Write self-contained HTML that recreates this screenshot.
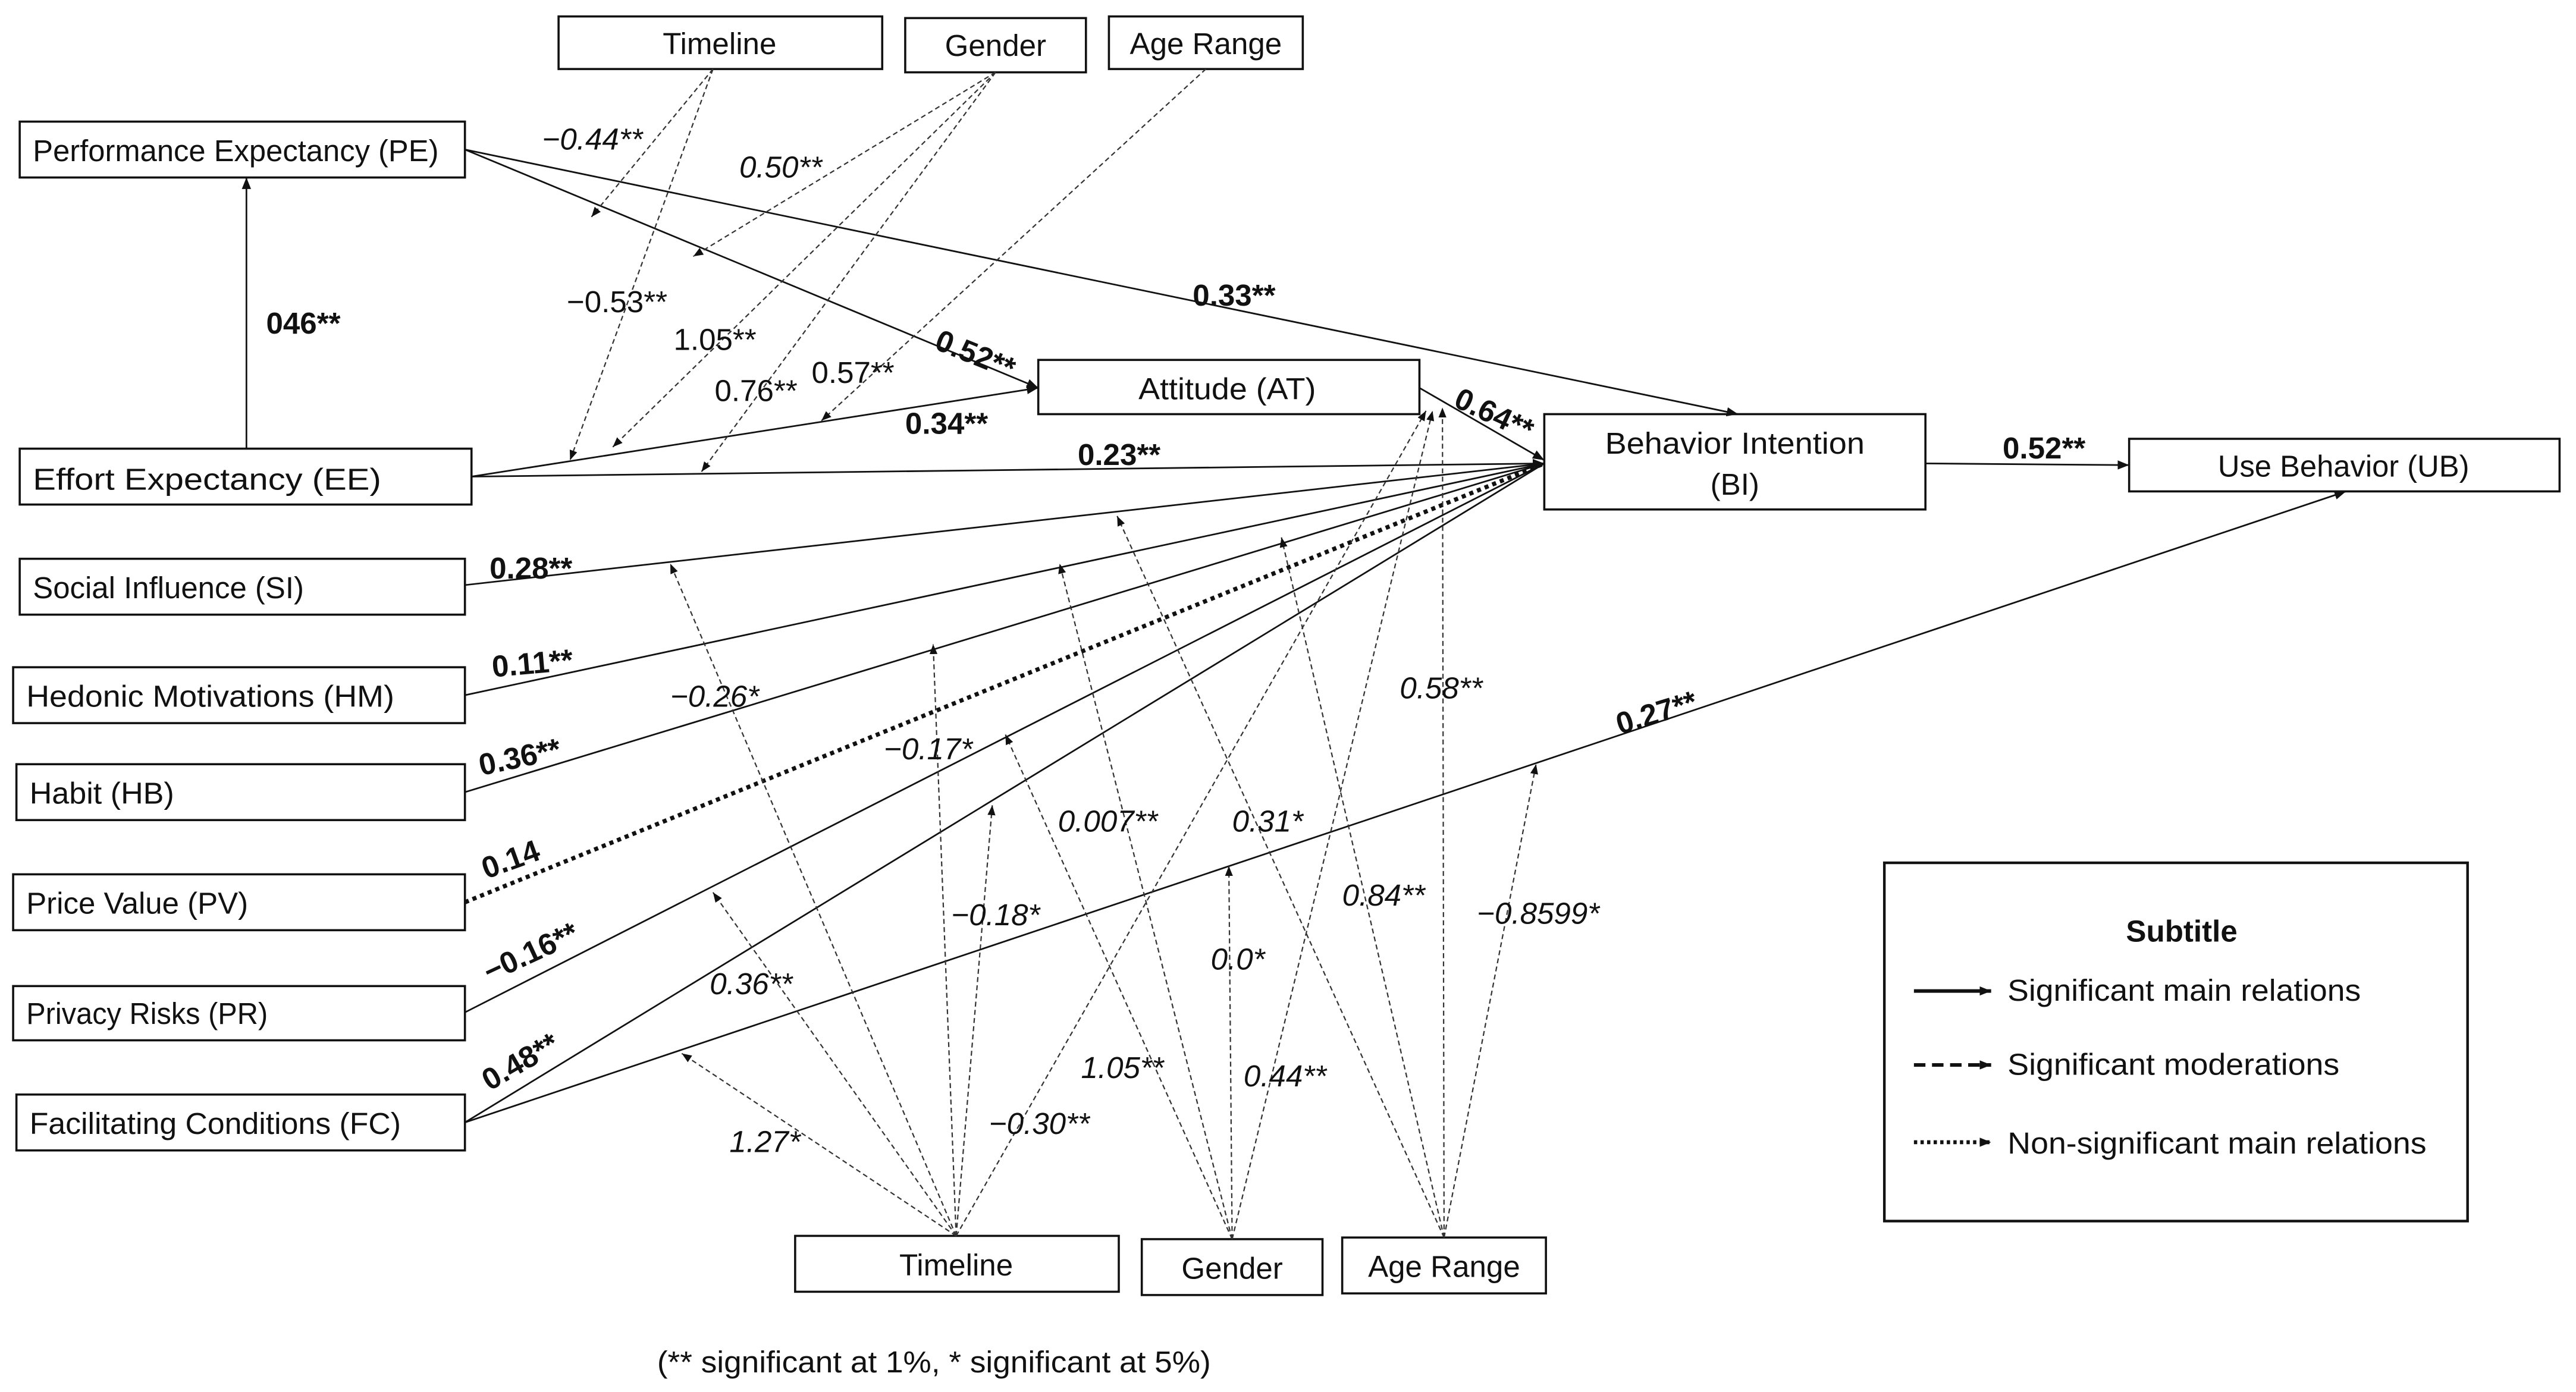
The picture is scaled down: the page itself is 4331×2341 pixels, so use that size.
<!DOCTYPE html>
<html><head><meta charset="utf-8"><style>
html,body{margin:0;padding:0;background:#fff;}
svg{display:block;}
text{font-family:"Liberation Sans",sans-serif;font-size:18.5px;fill:#111;}
.b{font-weight:bold;}
.i{font-style:italic;}
</style></head><body>
<svg width="4331" height="2341" viewBox="0 0 1568 847" preserveAspectRatio="none" xmlns="http://www.w3.org/2000/svg">
<defs>
<marker id="a" viewBox="0 0 10 10" refX="10" refY="5" markerWidth="7" markerHeight="7" orient="auto-start-reverse" markerUnits="userSpaceOnUse"><path d="M0,1 L10,5 L0,9z" fill="#111"/></marker>
<marker id="s" viewBox="0 0 10 10" refX="10" refY="5" markerWidth="6" markerHeight="6" orient="auto" markerUnits="userSpaceOnUse"><path d="M0,1 L10,5 L0,9z" fill="#111"/></marker>
</defs>
<g fill="none" stroke="#111" stroke-width="1.3">
<rect x="340" y="10" width="197" height="32"/>
<rect x="551" y="11" width="110" height="33"/>
<rect x="675" y="10" width="118" height="32"/>
<rect x="12" y="74" width="271" height="34"/>
<rect x="12" y="273" width="275" height="34"/>
<rect x="12" y="340" width="271" height="34"/>
<rect x="8" y="406" width="275" height="34"/>
<rect x="10" y="465" width="273" height="34"/>
<rect x="8" y="532" width="275" height="34"/>
<rect x="8" y="600" width="275" height="33"/>
<rect x="10" y="666" width="273" height="34"/>
<rect x="632" y="219" width="232" height="33"/>
<rect x="940" y="252" width="232" height="58"/>
<rect x="1296" y="267" width="262" height="32"/>
<rect x="484" y="752" width="197" height="34"/>
<rect x="695" y="754" width="110" height="34"/>
<rect x="817" y="753" width="124" height="34"/>
<rect x="1147" y="525" width="355" height="218" stroke-width="1.6"/>
</g>
<g stroke="#111" stroke-width="1" fill="none">
<line x1="150" y1="273" x2="150" y2="108" marker-end="url(#a)"/>
<line x1="283" y1="91" x2="632" y2="236" marker-end="url(#a)"/>
<line x1="283" y1="91" x2="1058" y2="252" marker-end="url(#a)"/>
<line x1="287" y1="290" x2="632" y2="236" marker-end="url(#a)"/>
<line x1="287" y1="290" x2="940" y2="282" marker-end="url(#a)"/>
<line x1="283" y1="356" x2="940" y2="282"/>
<line x1="283" y1="423" x2="940" y2="282"/>
<line x1="283" y1="482" x2="940" y2="282"/>
<line x1="283" y1="549" x2="940" y2="282" stroke-width="2.6" stroke-dasharray="2.5,2.5"/>
<line x1="283" y1="616" x2="940" y2="282"/>
<line x1="283" y1="683" x2="940" y2="282"/>
<line x1="283" y1="683" x2="1428" y2="299" marker-end="url(#a)"/>
<line x1="864" y1="236" x2="940" y2="280" marker-end="url(#a)"/>
<line x1="1172" y1="282" x2="1296" y2="283" marker-end="url(#a)"/>
</g>
<g stroke="#333" stroke-width="0.8" stroke-dasharray="3,2" fill="none" marker-end="url(#s)">
<line x1="434" y1="42" x2="360" y2="132"/>
<line x1="434" y1="42" x2="347" y2="280"/>
<line x1="606" y1="44" x2="422" y2="156"/>
<line x1="606" y1="44" x2="373" y2="272"/>
<line x1="606" y1="44" x2="427" y2="287"/>
<line x1="734" y1="42" x2="500" y2="256"/>
<line x1="582" y1="752" x2="408" y2="343"/>
<line x1="582" y1="752" x2="568" y2="392"/>
<line x1="582" y1="752" x2="434" y2="543"/>
<line x1="582" y1="752" x2="604" y2="490"/>
<line x1="582" y1="752" x2="415" y2="641"/>
<line x1="582" y1="752" x2="868" y2="250"/>
<line x1="750" y1="754" x2="645" y2="343"/>
<line x1="750" y1="754" x2="612" y2="447"/>
<line x1="750" y1="754" x2="748" y2="527"/>
<line x1="750" y1="754" x2="872" y2="250"/>
<line x1="879" y1="753" x2="680" y2="314"/>
<line x1="879" y1="753" x2="780" y2="327"/>
<line x1="879" y1="753" x2="878" y2="248"/>
<line x1="879" y1="753" x2="935" y2="465"/>
</g>
<g>
<text x="438" y="33" text-anchor="middle">Timeline</text>
<text x="606" y="34" text-anchor="middle">Gender</text>
<text x="734" y="33" text-anchor="middle">Age Range</text>
<text x="20" y="98" textLength="247" lengthAdjust="spacingAndGlyphs">Performance Expectancy (PE)</text>
<text x="20" y="298" textLength="212" lengthAdjust="spacingAndGlyphs">Effort Expectancy (EE)</text>
<text x="20" y="364" textLength="165" lengthAdjust="spacingAndGlyphs">Social Influence (SI)</text>
<text x="16" y="430" textLength="224" lengthAdjust="spacingAndGlyphs">Hedonic Motivations (HM)</text>
<text x="18" y="489" textLength="88" lengthAdjust="spacingAndGlyphs">Habit (HB)</text>
<text x="16" y="556" textLength="135" lengthAdjust="spacingAndGlyphs">Price Value (PV)</text>
<text x="16" y="623" textLength="147" lengthAdjust="spacingAndGlyphs">Privacy Risks (PR)</text>
<text x="18" y="690" textLength="226" lengthAdjust="spacingAndGlyphs">Facilitating Conditions (FC)</text>
<text x="693" y="243" textLength="108" lengthAdjust="spacingAndGlyphs">Attitude (AT)</text>
<text x="977" y="276" textLength="158" lengthAdjust="spacingAndGlyphs">Behavior Intention</text>
<text x="1056" y="301" text-anchor="middle">(BI)</text>
<text x="1350" y="290" textLength="153" lengthAdjust="spacingAndGlyphs">Use Behavior (UB)</text>
<text x="582" y="776" text-anchor="middle">Timeline</text>
<text x="750" y="778" text-anchor="middle">Gender</text>
<text x="879" y="777" text-anchor="middle">Age Range</text>
<text x="1328" y="573" text-anchor="middle" class="b">Subtitle</text>
<text x="1222" y="609" textLength="215" lengthAdjust="spacingAndGlyphs">Significant main relations</text>
<text x="1222" y="654" textLength="202" lengthAdjust="spacingAndGlyphs">Significant moderations</text>
<text x="1222" y="702" textLength="255" lengthAdjust="spacingAndGlyphs">Non-significant main relations</text>
<text x="400" y="835" textLength="337" lengthAdjust="spacingAndGlyphs">(** significant at 1%, * significant at 5%)</text>
</g>
<g stroke="#111" fill="none" marker-end="url(#a)">
<line x1="1165" y1="603" x2="1212" y2="603" stroke-width="2.2"/>
<line x1="1165" y1="648" x2="1212" y2="648" stroke-width="2.2" stroke-dasharray="7,4"/>
<line x1="1165" y1="695" x2="1212" y2="695" stroke-width="2.4" stroke-dasharray="2,2"/>
</g>
<g>
<text x="330" y="91" class="i">−0.44**</text>
<text x="450" y="108" class="i">0.50**</text>
<text x="408" y="430" class="i">−0.26*</text>
<text x="538" y="462" class="i">−0.17*</text>
<text x="644" y="506" class="i">0.007**</text>
<text x="750" y="506" class="i">0.31*</text>
<text x="852" y="425" class="i">0.58**</text>
<text x="817" y="551" class="i">0.84**</text>
<text x="899" y="562" class="i">−0.8599*</text>
<text x="579" y="563" class="i">−0.18*</text>
<text x="737" y="590" class="i">0.0*</text>
<text x="432" y="605" class="i">0.36**</text>
<text x="658" y="656" class="i">1.05**</text>
<text x="757" y="661" class="i">0.44**</text>
<text x="444" y="701" class="i">1.27*</text>
<text x="602" y="690" class="i">−0.30**</text>
</g>
<g>
<text x="345" y="190">−0.53**</text>
<text x="410" y="213">1.05**</text>
<text x="435" y="244">0.76**</text>
<text x="494" y="233">0.57**</text>
<text x="162" y="203" class="b">046**</text>
<text x="568" y="212" class="b" transform="rotate(22 568 212)">0.52**</text>
<text x="726" y="186" class="b">0.33**</text>
<text x="551" y="264" class="b">0.34**</text>
<text x="656" y="283" class="b">0.23**</text>
<text x="884" y="247" class="b" transform="rotate(25 884 247)">0.64**</text>
<text x="1219" y="279" class="b">0.52**</text>
<text x="298" y="352" class="b">0.28**</text>
<text x="300" y="412" class="b" transform="rotate(-5 300 412)">0.11**</text>
<text x="293" y="472" class="b" transform="rotate(-12 293 472)">0.36**</text>
<text x="296" y="535" class="b" transform="rotate(-20 296 535)">0.14</text>
<text x="298" y="598" class="b" transform="rotate(-25 298 598)">−0.16**</text>
<text x="298" y="664" class="b" transform="rotate(-30 298 664)">0.48**</text>
<text x="986" y="447" class="b" transform="rotate(-17 986 447)">0.27**</text>
</g>
</svg>
</body></html>
